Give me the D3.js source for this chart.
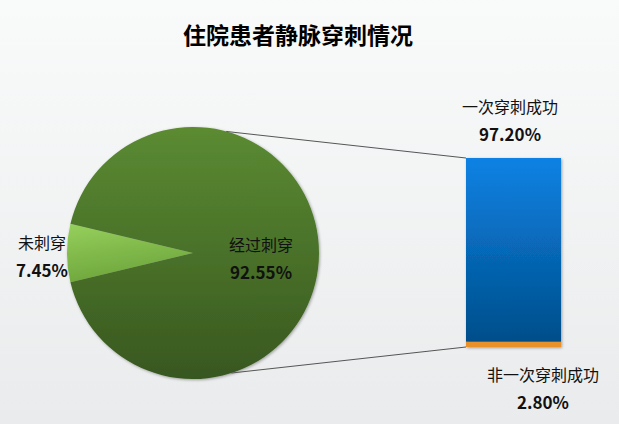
<!DOCTYPE html>
<html><head><meta charset="utf-8">
<script src="https://cdn.jsdelivr.net/npm/d3@7"></script>
<style>
html,body{margin:0;padding:0;background:#fff;}
svg{display:block;}
text{font-family:"Noto Sans CJK SC","Microsoft YaHei",sans-serif;}
</style></head><body>
<svg id="chart" width="619" height="424"></svg>
<script>
const title = "住院患者静脉穿刺情况";
const pieCategories = ["经过刺穿", "未刺穿"];
const pieValues = [92.55, 7.45];
const barCategories = ["一次穿刺成功", "非一次穿刺成功"];
const barValues = [97.20, 2.80];

const W = 619, H = 424;
const svg = d3.select("#chart");
const defs = svg.append("defs");

const bg = defs.append("linearGradient").attr("id","bg").attr("x1",0).attr("y1",0).attr("x2",0).attr("y2",1);
bg.append("stop").attr("offset","0%").attr("stop-color","#f9fafa");
bg.append("stop").attr("offset","100%").attr("stop-color","#eaebec");
svg.append("rect").attr("width",W).attr("height",H).attr("fill","url(#bg)");

const cx = 193, cy = 253, R = 126;

const gBig = defs.append("linearGradient").attr("id","gBig").attr("gradientUnits","userSpaceOnUse")
  .attr("x1",0).attr("y1",-R).attr("x2",0).attr("y2",R);
gBig.append("stop").attr("offset","0%").attr("stop-color","#5b8b32");
gBig.append("stop").attr("offset","100%").attr("stop-color","#385720");
const gSmall = defs.append("linearGradient").attr("id","gSmall").attr("x1",0).attr("y1",0).attr("x2",0.3).attr("y2",1);
gSmall.append("stop").attr("offset","0%").attr("stop-color","#96d05c");
gSmall.append("stop").attr("offset","100%").attr("stop-color","#6ea63c");
const gBlue = defs.append("linearGradient").attr("id","gBlue").attr("x1",0).attr("y1",0).attr("x2",0).attr("y2",1);
gBlue.append("stop").attr("offset","0%").attr("stop-color","#0a82e4");
gBlue.append("stop").attr("offset","100%").attr("stop-color","#034e8a");

const sh = defs.append("filter").attr("id","sh").attr("x","-10%").attr("y","-10%").attr("width","130%").attr("height","130%");
sh.append("feGaussianBlur").attr("in","SourceAlpha").attr("stdDeviation",1.6).attr("result","b");
sh.append("feOffset").attr("in","b").attr("dx",1.2).attr("dy",1.2).attr("result","o");
sh.append("feComponentTransfer").attr("in","o").attr("result","o2")
  .append("feFuncA").attr("type","linear").attr("slope",0.35);
const fm = sh.append("feMerge");
fm.append("feMergeNode").attr("in","o2");
fm.append("feMergeNode").attr("in","SourceGraphic");

svg.append("text").attr("x",298).attr("y",44).attr("text-anchor","middle")
  .attr("font-size",23).attr("font-weight","bold").attr("fill","#000").text(title);

const smallFrac = pieValues[1] / d3.sum(pieValues);
const half = smallFrac * Math.PI;
const pie = d3.pie().sort(null).value(d => d.v)
  .startAngle(1.5*Math.PI - half).endAngle(1.5*Math.PI - half + 2*Math.PI);
const pieData = pie([{k:pieCategories[1], v:pieValues[1]}, {k:pieCategories[0], v:pieValues[0]}]);
const arc = d3.arc().innerRadius(0).outerRadius(R);
const gp = svg.append("g").attr("transform",`translate(${cx},${cy})`).attr("filter","url(#sh)");
gp.selectAll("path").data(pieData).join("path")
  .attr("d",arc)
  .attr("fill",(d,i)=> i===0 ? "url(#gSmall)" : "url(#gBig)");

const bx = 466, bw = 95;
const y = d3.scaleLinear().domain([0, d3.sum(barValues)]).range([347, 158]);
const stack = [
  {k:barCategories[1], y0:0, y1:barValues[1], fill:"#e8912a"},
  {k:barCategories[0], y0:barValues[1], y1:barValues[1]+barValues[0], fill:"url(#gBlue)"}
];
const gb = svg.append("g").attr("filter","url(#sh)");
gb.selectAll("rect").data(stack).join("rect")
  .attr("x",bx).attr("width",bw)
  .attr("y",d=>y(d.y1)).attr("height",d=>y(d.y0)-y(d.y1))
  .attr("fill",d=>d.fill);

const aTop = 15.3*Math.PI/180, aBot = 162.3*Math.PI/180;
const pt = a => [cx + R*Math.sin(a), cy - R*Math.cos(a)];
const pTop = pt(aTop), pBot = pt(aBot);
svg.append("line").attr("x1",pTop[0]).attr("y1",pTop[1]).attr("x2",bx).attr("y2",y(100))
  .attr("stroke","#555").attr("stroke-width",1);
svg.append("line").attr("x1",pBot[0]).attr("y1",pBot[1]).attr("x2",bx).attr("y2",y(0))
  .attr("stroke","#555").attr("stroke-width",1);

function label(x, yy, name, val){
  svg.append("text").attr("x",x).attr("y",yy).attr("text-anchor","middle")
    .attr("font-size",16).attr("fill","#111").text(name);
  svg.append("text").attr("x",x).attr("y",yy+28).attr("text-anchor","middle")
    .attr("font-size",17).attr("font-weight","bold").attr("fill","#111").text(val.toFixed(2)+"%");
}
label(261, 251, pieCategories[0], pieValues[0]);
label(42, 249, pieCategories[1], pieValues[1]);
label(510, 113, barCategories[0], barValues[0]);
label(543, 381, barCategories[1], barValues[1]);
</script>
</body></html>
